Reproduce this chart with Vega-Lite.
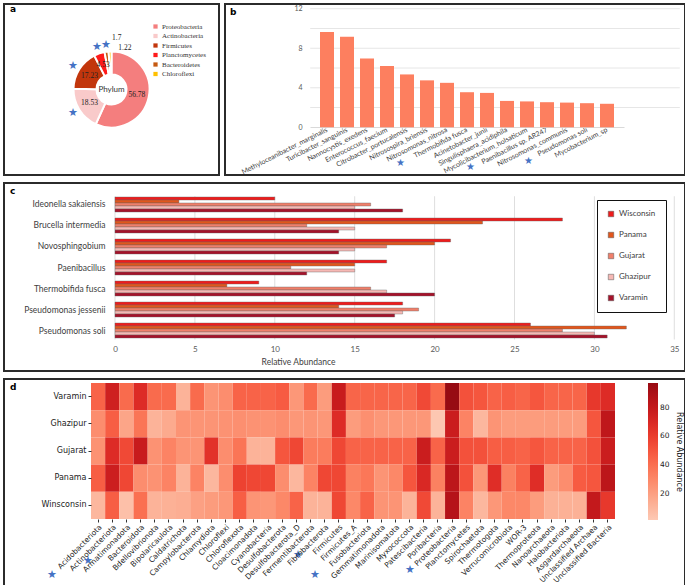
{
"$schema": "https://vega.github.io/schema/vega-lite/v6.json",
"padding": {"left": 0, "top": 0, "right": 0, "bottom": 0},
"background": "white",
"config": {"view": {"stroke": "#2b2b2b", "strokeWidth": 2}, "font": "Lato"},
"spacing": 6,
"vconcat": [
{"hconcat": [
{
"width": 215, "height": 171,
"title": {"text": "a", "anchor": "start", "frame": "group", "offset": -13, "dx": 6, "fontSize": 9, "fontWeight": "bold", "font": "DejaVu Sans", "color": "#000"},
"data": {"values": [
{"phylum": "Proteobacteria", "pct": 56.78},
{"phylum": "Actinobacteria", "pct": 18.53},
{"phylum": "Firmicutes", "pct": 17.23},
{"phylum": "Planctomycetes", "pct": 4.53},
{"phylum": "Bacteroidetes", "pct": 1.7},
{"phylum": "Chloroflexi", "pct": 1.22}
]},
"layer": [
{"mark": {"type": "point", "opacity": 0},
 "encoding": {
  "x": {"datum": 0, "type": "quantitative", "axis": null},
  "y": {"datum": 0, "type": "quantitative", "axis": null}
 }},
{"mark": {"type": "arc", "innerRadius": 15, "outerRadius": 38, "stroke": "white", "strokeWidth": 2},
 "encoding": {
  "theta": {"field": "pct", "type": "quantitative", "stack": true},
  "order": {"field": "pct", "sort": "descending"},
  "color": {"field": "phylum", "type": "nominal",
   "scale": {"domain": ["Proteobacteria", "Actinobacteria", "Firmicutes", "Planctomycetes", "Bacteroidetes", "Chloroflexi"],
             "range": ["#f47e7e", "#f9caca", "#c2360c", "#ff1a1a", "#c55a11", "#ffc000"]},
   "legend": {"orient": "none", "legendX": 148, "legendY": 19, "title": null, "symbolType": "square", "symbolSize": 18, "labelFont": "Liberation Serif", "labelFontSize": 7, "labelColor": "#333", "rowPadding": 1.5, "symbolStrokeWidth": 0, "labelOffset": 3}}
 }},
{"mark": {"type": "text", "radius": 26, "font": "Liberation Serif", "fontSize": 7.5, "color": "#222"},
 "encoding": {
  "theta": {"field": "pct", "type": "quantitative", "stack": true},
  "order": {"field": "pct", "sort": "descending"},
  "text": {"condition": {"test": "datum.pct > 4", "field": "pct", "type": "quantitative"}, "value": ""}
 }},
{"mark": {"type": "text", "radius": 52, "dx": 12, "font": "Liberation Serif", "fontSize": 7.5, "color": "#222"},
 "encoding": {
  "theta": {"field": "pct", "type": "quantitative", "stack": true},
  "order": {"field": "pct", "sort": "descending"},
  "text": {"condition": {"test": "datum.phylum === 'Bacteroidetes'", "field": "pct", "type": "quantitative"}, "value": ""}
 }},
{"mark": {"type": "text", "radius": 42, "dx": 15, "font": "Liberation Serif", "fontSize": 7.5, "color": "#222"},
 "encoding": {
  "theta": {"field": "pct", "type": "quantitative", "stack": true},
  "order": {"field": "pct", "sort": "descending"},
  "text": {"condition": {"test": "datum.phylum === 'Chloroflexi'", "field": "pct", "type": "quantitative"}, "value": ""}
 }},
{"mark": {"type": "text", "radius": 45, "fontSize": 11, "color": "#4472c4"},
 "encoding": {
  "theta": {"field": "pct", "type": "quantitative", "stack": true},
  "order": {"field": "pct", "sort": "descending"},
  "text": {"condition": {"test": "datum.phylum === 'Actinobacteria' || datum.phylum === 'Firmicutes' || datum.phylum === 'Planctomycetes' || datum.phylum === 'Bacteroidetes'", "value": "★"}, "value": ""}
 }},
{"data": {"values": [{"t": "Phylum"}]},
 "mark": {"type": "text", "fontSize": 8, "color": "#333"},
 "encoding": {"text": {"field": "t"}}}
]
},
{
"width": 460, "height": 171,
"title": {"text": "b", "anchor": "start", "frame": "group", "offset": -13, "dx": 5, "fontSize": 9, "fontWeight": "bold", "font": "DejaVu Sans", "color": "#000"},
"layer": [
{"data": {"values": [{"g": 2}, {"g": 4}, {"g": 6}, {"g": 8}, {"g": 10}, {"g": 12}]},
 "mark": {"type": "rule", "color": "#e6e6e6", "strokeWidth": 1},
 "encoding": {
  "y": {"field": "g", "type": "quantitative"},
  "x": {"datum": "Methyloceanibacter_marginalis", "type": "nominal", "bandPosition": -0.7},
  "x2": {"datum": "Mycobacterium_sp", "bandPosition": 5.7}
 }},
{"data": {"values": [
{"sp": "Methyloceanibacter_marginalis", "v": 9.64},
{"sp": "Turicibacter_sanguinis", "v": 9.15},
{"sp": "Nannocystis_exedens", "v": 6.95},
{"sp": "Enterococcus_faecium", "v": 6.2},
{"sp": "Citrobacter_portucalensis", "v": 5.35},
{"sp": "Nitrosospira_briensis", "v": 4.75},
{"sp": "Nitrosomonas_nitrosa", "v": 4.5},
{"sp": "Thermobifida fusca", "v": 3.55},
{"sp": "Acinetobacter_junii", "v": 3.48},
{"sp": "Singulisphaera_acidiphila", "v": 2.67},
{"sp": "Mycolicibacterium_holsaticum", "v": 2.62},
{"sp": "Paenibacillus sp. AR247", "v": 2.54},
{"sp": "Nitrosomonas_communis", "v": 2.5},
{"sp": "Pseudomonas soli", "v": 2.44},
{"sp": "Mycobacterium_sp", "v": 2.38}
]},
 "mark": {"type": "bar", "color": "#fd7f5f"},
 "encoding": {
  "x": {"field": "sp", "type": "nominal",
   "scale": {"domain": ["Methyloceanibacter_marginalis", "Turicibacter_sanguinis", "Nannocystis_exedens", "Enterococcus_faecium", "Citrobacter_portucalensis", "Nitrosospira_briensis", "Nitrosomonas_nitrosa", "Thermobifida fusca", "Acinetobacter_junii", "Singulisphaera_acidiphila", "Mycolicibacterium_holsaticum", "Paenibacillus sp. AR247", "Nitrosomonas_communis", "Pseudomonas soli", "Mycobacterium_sp"],
             "range": [85, 399], "paddingInner": 0.3, "paddingOuter": 0.5},
   "axis": {"title": null, "labelAngle": -27, "offset": -48, "ticks": false, "domainColor": "#d9d9d9", "labelFontSize": 7, "labelColor": "#404040", "labelPadding": 2}},
  "y": {"field": "v", "type": "quantitative",
   "scale": {"domain": [-4.826, 12.476], "nice": false, "zero": false},
   "axis": {"title": null, "values": [0, 2, 4, 6, 8, 10, 12], "offset": -79, "ticks": false, "domain": false, "grid": false, "labelFontSize": 7, "labelColor": "#595959"}}
 }},
{"data": {"values": [{"sp": "Thermobifida fusca"}]},
 "mark": {"type": "text", "text": "★", "fontSize": 10, "color": "#4472c4", "dx": -67},
 "encoding": {"x": {"field": "sp", "type": "nominal"}, "y": {"datum": -3.6, "type": "quantitative"}}},
{"data": {"values": [{"sp": "Paenibacillus sp. AR247"}]},
 "mark": {"type": "text", "text": "★", "fontSize": 10, "color": "#4472c4", "dx": -77},
 "encoding": {"x": {"field": "sp", "type": "nominal"}, "y": {"datum": -4.0, "type": "quantitative"}}},
{"data": {"values": [{"sp": "Pseudomonas soli"}]},
 "mark": {"type": "text", "text": "★", "fontSize": 10, "color": "#4472c4", "dx": -59},
 "encoding": {"x": {"field": "sp", "type": "nominal"}, "y": {"datum": -3.4, "type": "quantitative"}}}
]
}
], "spacing": 4},
{
"width": 681, "height": 188,
"title": {"text": "c", "anchor": "start", "frame": "group", "offset": -13, "dx": 6, "fontSize": 9, "fontWeight": "bold", "font": "DejaVu Sans", "color": "#000"},
"layer": [
{"data": {"values": [{"g": 0}, {"g": 5}, {"g": 10}, {"g": 15}, {"g": 20}, {"g": 25}, {"g": 30}, {"g": 35}]},
 "mark": {"type": "rule", "color": "#dedede", "strokeWidth": 1},
 "encoding": {
  "x": {"field": "g", "type": "quantitative"},
  "y": {"datum": "Ideonella sakaiensis", "type": "nominal", "bandPosition": -0.05},
  "y2": {"datum": "Pseudomonas soli", "bandPosition": 1.1}
 }},
{"data": {"values": [
{"sp": "Ideonella sakaiensis", "site": "Wisconsin", "v": 10},
{"sp": "Ideonella sakaiensis", "site": "Panama", "v": 4},
{"sp": "Ideonella sakaiensis", "site": "Gujarat", "v": 16},
{"sp": "Ideonella sakaiensis", "site": "Ghazipur", "v": 15},
{"sp": "Ideonella sakaiensis", "site": "Varamin", "v": 18},
{"sp": "Brucella intermedia", "site": "Wisconsin", "v": 28},
{"sp": "Brucella intermedia", "site": "Panama", "v": 23},
{"sp": "Brucella intermedia", "site": "Gujarat", "v": 12},
{"sp": "Brucella intermedia", "site": "Ghazipur", "v": 15},
{"sp": "Brucella intermedia", "site": "Varamin", "v": 14},
{"sp": "Novosphingobium", "site": "Wisconsin", "v": 21},
{"sp": "Novosphingobium", "site": "Panama", "v": 20},
{"sp": "Novosphingobium", "site": "Gujarat", "v": 17},
{"sp": "Novosphingobium", "site": "Ghazipur", "v": 15},
{"sp": "Novosphingobium", "site": "Varamin", "v": 14},
{"sp": "Paenibacillus", "site": "Wisconsin", "v": 17},
{"sp": "Paenibacillus", "site": "Panama", "v": 15},
{"sp": "Paenibacillus", "site": "Gujarat", "v": 11},
{"sp": "Paenibacillus", "site": "Ghazipur", "v": 15},
{"sp": "Paenibacillus", "site": "Varamin", "v": 12},
{"sp": "Thermobifida fusca", "site": "Wisconsin", "v": 9},
{"sp": "Thermobifida fusca", "site": "Panama", "v": 7},
{"sp": "Thermobifida fusca", "site": "Gujarat", "v": 16},
{"sp": "Thermobifida fusca", "site": "Ghazipur", "v": 17},
{"sp": "Thermobifida fusca", "site": "Varamin", "v": 20},
{"sp": "Pseudomonas jessenii", "site": "Wisconsin", "v": 18},
{"sp": "Pseudomonas jessenii", "site": "Panama", "v": 14},
{"sp": "Pseudomonas jessenii", "site": "Gujarat", "v": 19},
{"sp": "Pseudomonas jessenii", "site": "Ghazipur", "v": 18},
{"sp": "Pseudomonas jessenii", "site": "Varamin", "v": 17.5},
{"sp": "Pseudomonas soli", "site": "Wisconsin", "v": 26},
{"sp": "Pseudomonas soli", "site": "Panama", "v": 32},
{"sp": "Pseudomonas soli", "site": "Gujarat", "v": 28},
{"sp": "Pseudomonas soli", "site": "Ghazipur", "v": 30},
{"sp": "Pseudomonas soli", "site": "Varamin", "v": 30.8}
]},
 "mark": {"type": "bar", "stroke": "#666", "strokeWidth": 0.4},
 "encoding": {
  "y": {"field": "sp", "type": "nominal",
   "scale": {"domain": ["Ideonella sakaiensis", "Brucella intermedia", "Novosphingobium", "Paenibacillus", "Thermobifida fusca", "Pseudomonas jessenii", "Pseudomonas soli"],
             "range": [14, 155], "paddingInner": 0.286, "paddingOuter": 0},
   "axis": {"title": null, "offset": -104, "ticks": false, "domain": false, "labelPadding": 3, "labelFontSize": 8.5, "labelColor": "#404040"}},
  "yOffset": {"field": "site", "type": "nominal", "scale": {"domain": ["Wisconsin", "Panama", "Gujarat", "Ghazipur", "Varamin"], "paddingInner": 0, "paddingOuter": 0}},
  "x": {"field": "v", "type": "quantitative",
   "scale": {"domain": [-6.946, 35.67], "nice": false, "zero": false},
   "axis": {"values": [0, 5, 10, 15, 20, 25, 30, 35], "offset": -28, "grid": false, "ticks": false, "domain": false, "labelFontSize": 8, "labelColor": "#595959", "title": "Relative Abundance", "titleFontSize": 8.5, "titleFontWeight": "normal", "titleColor": "#404040", "titleX": 294, "titlePadding": 4}},
  "color": {"field": "site", "type": "nominal",
   "scale": {"domain": ["Wisconsin", "Panama", "Gujarat", "Ghazipur", "Varamin"], "range": ["#ee1c1c", "#e2561c", "#f07f6a", "#f6b8b4", "#a5122a"]},
   "legend": {"orient": "none", "legendX": 593, "legendY": 17, "title": null, "strokeColor": "#111", "fillColor": "white", "padding": 10, "symbolType": "square", "symbolSize": 30, "symbolStrokeColor": "#555", "symbolStrokeWidth": 0.5, "labelFontSize": 8, "labelColor": "#404040", "rowPadding": 13}}
 }}
]
},
{
"width": 681, "height": 207,
"title": {"text": "d", "anchor": "start", "frame": "group", "offset": -13, "dx": 6, "fontSize": 9, "fontWeight": "bold", "font": "DejaVu Sans", "color": "#000"},
"layer": [
{"data": {"values": [
{"p":"Acidobacteriota","s":"Varamin","v":45},{"p":"Acidobacteriota","s":"Ghazipur","v":28},{"p":"Acidobacteriota","s":"Gujarat","v":26},{"p":"Acidobacteriota","s":"Panama","v":47},{"p":"Acidobacteriota","s":"Winsconsin","v":10},
{"p":"Actinobacteriota","s":"Varamin","v":75},{"p":"Actinobacteriota","s":"Ghazipur","v":47},{"p":"Actinobacteriota","s":"Gujarat","v":68},{"p":"Actinobacteriota","s":"Panama","v":76},{"p":"Actinobacteriota","s":"Winsconsin","v":47},
{"p":"Armatimonadota","s":"Varamin","v":42},{"p":"Armatimonadota","s":"Ghazipur","v":18},{"p":"Armatimonadota","s":"Gujarat","v":55},{"p":"Armatimonadota","s":"Panama","v":56},{"p":"Armatimonadota","s":"Winsconsin","v":6},
{"p":"Bacteroidota","s":"Varamin","v":68},{"p":"Bacteroidota","s":"Ghazipur","v":38},{"p":"Bacteroidota","s":"Gujarat","v":78},{"p":"Bacteroidota","s":"Panama","v":28},{"p":"Bacteroidota","s":"Winsconsin","v":40},
{"p":"Bdellovibrionota","s":"Varamin","v":42},{"p":"Bdellovibrionota","s":"Ghazipur","v":12},{"p":"Bdellovibrionota","s":"Gujarat","v":26},{"p":"Bdellovibrionota","s":"Panama","v":26},{"p":"Bdellovibrionota","s":"Winsconsin","v":12},
{"p":"Bipolaricaulota","s":"Varamin","v":42},{"p":"Bipolaricaulota","s":"Ghazipur","v":16},{"p":"Bipolaricaulota","s":"Gujarat","v":32},{"p":"Bipolaricaulota","s":"Panama","v":32},{"p":"Bipolaricaulota","s":"Winsconsin","v":13},
{"p":"Caldatrichota","s":"Varamin","v":12},{"p":"Caldatrichota","s":"Ghazipur","v":25},{"p":"Caldatrichota","s":"Gujarat","v":25},{"p":"Caldatrichota","s":"Panama","v":12},{"p":"Caldatrichota","s":"Winsconsin","v":14},
{"p":"Campylobacterota","s":"Varamin","v":42},{"p":"Campylobacterota","s":"Ghazipur","v":25},{"p":"Campylobacterota","s":"Gujarat","v":25},{"p":"Campylobacterota","s":"Panama","v":32},{"p":"Campylobacterota","s":"Winsconsin","v":20},
{"p":"Chlamydiota","s":"Varamin","v":25},{"p":"Chlamydiota","s":"Ghazipur","v":25},{"p":"Chlamydiota","s":"Gujarat","v":65},{"p":"Chlamydiota","s":"Panama","v":10},{"p":"Chlamydiota","s":"Winsconsin","v":22},
{"p":"Chloroflexi","s":"Varamin","v":28},{"p":"Chloroflexi","s":"Ghazipur","v":26},{"p":"Chloroflexi","s":"Gujarat","v":28},{"p":"Chloroflexi","s":"Panama","v":28},{"p":"Chloroflexi","s":"Winsconsin","v":24},
{"p":"Chloroflexota","s":"Varamin","v":45},{"p":"Chloroflexota","s":"Ghazipur","v":27},{"p":"Chloroflexota","s":"Gujarat","v":38},{"p":"Chloroflexota","s":"Panama","v":58},{"p":"Chloroflexota","s":"Winsconsin","v":47},
{"p":"Cloacimonadota","s":"Varamin","v":45},{"p":"Cloacimonadota","s":"Ghazipur","v":26},{"p":"Cloacimonadota","s":"Gujarat","v":12},{"p":"Cloacimonadota","s":"Panama","v":56},{"p":"Cloacimonadota","s":"Winsconsin","v":25},
{"p":"Cyanobacteria","s":"Varamin","v":45},{"p":"Cyanobacteria","s":"Ghazipur","v":26},{"p":"Cyanobacteria","s":"Gujarat","v":12},{"p":"Cyanobacteria","s":"Panama","v":56},{"p":"Cyanobacteria","s":"Winsconsin","v":24},
{"p":"Desulfobacterota","s":"Varamin","v":48},{"p":"Desulfobacterota","s":"Ghazipur","v":28},{"p":"Desulfobacterota","s":"Gujarat","v":50},{"p":"Desulfobacterota","s":"Panama","v":28},{"p":"Desulfobacterota","s":"Winsconsin","v":30},
{"p":"Desulfobacterota_D","s":"Varamin","v":24},{"p":"Desulfobacterota_D","s":"Ghazipur","v":24},{"p":"Desulfobacterota_D","s":"Gujarat","v":56},{"p":"Desulfobacterota_D","s":"Panama","v":10},{"p":"Desulfobacterota_D","s":"Winsconsin","v":45},
{"p":"Fermentibacterota","s":"Varamin","v":42},{"p":"Fermentibacterota","s":"Ghazipur","v":25},{"p":"Fermentibacterota","s":"Gujarat","v":35},{"p":"Fermentibacterota","s":"Panama","v":32},{"p":"Fermentibacterota","s":"Winsconsin","v":12},
{"p":"Fibrobacterota","s":"Varamin","v":22},{"p":"Fibrobacterota","s":"Ghazipur","v":24},{"p":"Fibrobacterota","s":"Gujarat","v":35},{"p":"Fibrobacterota","s":"Panama","v":56},{"p":"Fibrobacterota","s":"Winsconsin","v":12},
{"p":"Firmicutes","s":"Varamin","v":78},{"p":"Firmicutes","s":"Ghazipur","v":68},{"p":"Firmicutes","s":"Gujarat","v":56},{"p":"Firmicutes","s":"Panama","v":56},{"p":"Firmicutes","s":"Winsconsin","v":56},
{"p":"Firmicutes_A","s":"Varamin","v":44},{"p":"Firmicutes_A","s":"Ghazipur","v":22},{"p":"Firmicutes_A","s":"Gujarat","v":45},{"p":"Firmicutes_A","s":"Panama","v":33},{"p":"Firmicutes_A","s":"Winsconsin","v":30},
{"p":"Fusobacteriota","s":"Varamin","v":44},{"p":"Fusobacteriota","s":"Ghazipur","v":27},{"p":"Fusobacteriota","s":"Gujarat","v":45},{"p":"Fusobacteriota","s":"Panama","v":37},{"p":"Fusobacteriota","s":"Winsconsin","v":45},
{"p":"Gemmatimonadota","s":"Varamin","v":44},{"p":"Gemmatimonadota","s":"Ghazipur","v":24},{"p":"Gemmatimonadota","s":"Gujarat","v":45},{"p":"Gemmatimonadota","s":"Panama","v":25},{"p":"Gemmatimonadota","s":"Winsconsin","v":25},
{"p":"Marinisomatota","s":"Varamin","v":44},{"p":"Marinisomatota","s":"Ghazipur","v":24},{"p":"Marinisomatota","s":"Gujarat","v":45},{"p":"Marinisomatota","s":"Panama","v":30},{"p":"Marinisomatota","s":"Winsconsin","v":25},
{"p":"Myxococcota","s":"Varamin","v":44},{"p":"Myxococcota","s":"Ghazipur","v":24},{"p":"Myxococcota","s":"Gujarat","v":45},{"p":"Myxococcota","s":"Panama","v":50},{"p":"Myxococcota","s":"Winsconsin","v":12},
{"p":"Patescibacteria","s":"Varamin","v":55},{"p":"Patescibacteria","s":"Ghazipur","v":24},{"p":"Patescibacteria","s":"Gujarat","v":77},{"p":"Patescibacteria","s":"Panama","v":70},{"p":"Patescibacteria","s":"Winsconsin","v":55},
{"p":"Poribacteria","s":"Varamin","v":42},{"p":"Poribacteria","s":"Ghazipur","v":3},{"p":"Poribacteria","s":"Gujarat","v":45},{"p":"Poribacteria","s":"Panama","v":33},{"p":"Poribacteria","s":"Winsconsin","v":12},
{"p":"Proteobacteria","s":"Varamin","v":97},{"p":"Proteobacteria","s":"Ghazipur","v":77},{"p":"Proteobacteria","s":"Gujarat","v":77},{"p":"Proteobacteria","s":"Panama","v":83},{"p":"Proteobacteria","s":"Winsconsin","v":86},
{"p":"Planctomycetes","s":"Varamin","v":52},{"p":"Planctomycetes","s":"Ghazipur","v":32},{"p":"Planctomycetes","s":"Gujarat","v":52},{"p":"Planctomycetes","s":"Panama","v":52},{"p":"Planctomycetes","s":"Winsconsin","v":32},
{"p":"Spirochaetota","s":"Varamin","v":50},{"p":"Spirochaetota","s":"Ghazipur","v":10},{"p":"Spirochaetota","s":"Gujarat","v":52},{"p":"Spirochaetota","s":"Panama","v":24},{"p":"Spirochaetota","s":"Winsconsin","v":10},
{"p":"Thermotogota","s":"Varamin","v":45},{"p":"Thermotogota","s":"Ghazipur","v":25},{"p":"Thermotogota","s":"Gujarat","v":47},{"p":"Thermotogota","s":"Panama","v":67},{"p":"Thermotogota","s":"Winsconsin","v":24},
{"p":"Verrucomicrobiota","s":"Varamin","v":47},{"p":"Verrucomicrobiota","s":"Ghazipur","v":22},{"p":"Verrucomicrobiota","s":"Gujarat","v":47},{"p":"Verrucomicrobiota","s":"Panama","v":33},{"p":"Verrucomicrobiota","s":"Winsconsin","v":30},
{"p":"WOR-3","s":"Varamin","v":44},{"p":"WOR-3","s":"Ghazipur","v":22},{"p":"WOR-3","s":"Gujarat","v":45},{"p":"WOR-3","s":"Panama","v":45},{"p":"WOR-3","s":"Winsconsin","v":30},
{"p":"Thermoproteota","s":"Varamin","v":50},{"p":"Thermoproteota","s":"Ghazipur","v":22},{"p":"Thermoproteota","s":"Gujarat","v":50},{"p":"Thermoproteota","s":"Panama","v":67},{"p":"Thermoproteota","s":"Winsconsin","v":22},
{"p":"Nanoarchaeota","s":"Varamin","v":44},{"p":"Nanoarchaeota","s":"Ghazipur","v":22},{"p":"Nanoarchaeota","s":"Gujarat","v":45},{"p":"Nanoarchaeota","s":"Panama","v":22},{"p":"Nanoarchaeota","s":"Winsconsin","v":13},
{"p":"Halobacteriota","s":"Varamin","v":44},{"p":"Halobacteriota","s":"Ghazipur","v":22},{"p":"Halobacteriota","s":"Gujarat","v":45},{"p":"Halobacteriota","s":"Panama","v":28},{"p":"Halobacteriota","s":"Winsconsin","v":13},
{"p":"Asgardarchaeota","s":"Varamin","v":44},{"p":"Asgardarchaeota","s":"Ghazipur","v":22},{"p":"Asgardarchaeota","s":"Gujarat","v":45},{"p":"Asgardarchaeota","s":"Panama","v":48},{"p":"Asgardarchaeota","s":"Winsconsin","v":13},
{"p":"Unclassified Archaea","s":"Varamin","v":62},{"p":"Unclassified Archaea","s":"Ghazipur","v":50},{"p":"Unclassified Archaea","s":"Gujarat","v":52},{"p":"Unclassified Archaea","s":"Panama","v":50},{"p":"Unclassified Archaea","s":"Winsconsin","v":80},
{"p":"Unclassified Bacteria","s":"Varamin","v":68},{"p":"Unclassified Bacteria","s":"Ghazipur","v":82},{"p":"Unclassified Bacteria","s":"Gujarat","v":77},{"p":"Unclassified Bacteria","s":"Panama","v":83},{"p":"Unclassified Bacteria","s":"Winsconsin","v":62}
]},
 "mark": {"type": "rect"},
 "encoding": {
  "x": {"field": "p", "type": "nominal",
   "scale": {"domain": ["Acidobacteriota","Actinobacteriota","Armatimonadota","Bacteroidota","Bdellovibrionota","Bipolaricaulota","Caldatrichota","Campylobacterota","Chlamydiota","Chloroflexi","Chloroflexota","Cloacimonadota","Cyanobacteria","Desulfobacterota","Desulfobacterota_D","Fermentibacterota","Fibrobacterota","Firmicutes","Firmicutes_A","Fusobacteriota","Gemmatimonadota","Marinisomatota","Myxococcota","Patescibacteria","Poribacteria","Proteobacteria","Planctomycetes","Spirochaetota","Thermotogota","Verrucomicrobiota","WOR-3","Thermoproteota","Nanoarchaeota","Halobacteriota","Asgardarchaeota","Unclassified Archaea","Unclassified Bacteria"],
             "range": [87, 611], "paddingInner": 0, "paddingOuter": 0},
   "axis": {"title": null, "offset": -67, "labelAngle": -45, "tickSize": 3, "tickColor": "#333", "domain": false, "labelFont": "DejaVu Sans", "labelFontSize": 7.5, "labelColor": "#222", "labelPadding": 1}},
  "y": {"field": "s", "type": "nominal",
   "scale": {"domain": ["Varamin", "Ghazipur", "Gujarat", "Panama", "Winsconsin"], "range": [4, 140], "paddingInner": 0, "paddingOuter": 0},
   "axis": {"title": null, "offset": -87, "tickSize": 3, "tickColor": "#333", "domain": false, "labelFont": "DejaVu Sans", "labelFontSize": 8, "labelColor": "#222", "labelPadding": 2}},
  "color": {"field": "v", "type": "quantitative",
   "scale": {"scheme": "reds", "domain": [2, 97]},
   "legend": {"orient": "none", "legendX": 644, "legendY": 4, "direction": "vertical", "gradientLength": 137, "gradientThickness": 10, "values": [20, 40, 60, 80], "title": "Relative Abundance", "titleOrient": "right", "titleFontSize": 8, "titleFontWeight": "normal", "titleFont": "DejaVu Sans", "labelFont": "DejaVu Sans", "labelFontSize": 7.5, "labelColor": "#222", "titleColor": "#222", "titleAnchor": "middle"}}
 }},
{"data": {"values": [{"p": "Acidobacteriota"}]},
 "mark": {"type": "text", "text": "★", "fontSize": 11, "color": "#4472c4", "dx": -46, "dy": 70},
 "encoding": {"x": {"field": "p", "type": "nominal"}, "y": {"datum": "Winsconsin", "type": "nominal"}}},
{"data": {"values": [{"p": "Proteobacteria"}]},
 "mark": {"type": "text", "text": "★", "fontSize": 11, "color": "#4472c4", "dx": -42, "dy": 65},
 "encoding": {"x": {"field": "p", "type": "nominal"}, "y": {"datum": "Winsconsin", "type": "nominal"}}},
{"data": {"values": [{"p": "Gemmatimonadota"}]},
 "mark": {"type": "text", "text": "★", "fontSize": 11, "color": "#4472c4", "dx": -66, "dy": 70},
 "encoding": {"x": {"field": "p", "type": "nominal"}, "y": {"datum": "Winsconsin", "type": "nominal"}}},
{"data": {"values": [{"p": "Bacteroidota"}]},
 "mark": {"type": "text", "text": "★", "fontSize": 11, "color": "#4472c4", "dx": -53, "dy": 56},
 "encoding": {"x": {"field": "p", "type": "nominal"}, "y": {"datum": "Winsconsin", "type": "nominal"}}},
{"data": {"values": [{"p": "Firmicutes"}]},
 "mark": {"type": "text", "text": "★", "fontSize": 11, "color": "#4472c4", "dx": -41, "dy": 50},
 "encoding": {"x": {"field": "p", "type": "nominal"}, "y": {"datum": "Winsconsin", "type": "nominal"}}}
]
}
]
}
